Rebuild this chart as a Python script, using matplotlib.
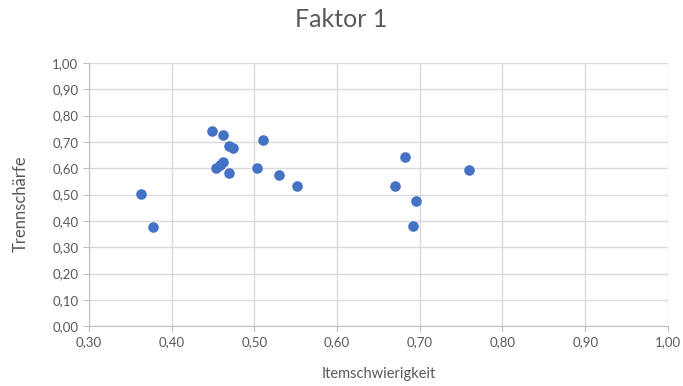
import matplotlib.pyplot as plt
from matplotlib.ticker import FuncFormatter, MultipleLocator

# Itemschwierigkeit (x) und Trennschärfe (y) je Item
schwierigkeit = [0.449, 0.462, 0.469, 0.474, 0.511, 0.462, 0.458, 0.454, 0.469, 0.503,
                 0.530, 0.552, 0.363, 0.377, 0.682, 0.760, 0.670, 0.696, 0.692]
trennschaerfe = [0.743, 0.725, 0.683, 0.676, 0.708, 0.625, 0.612, 0.600, 0.580, 0.602,
                 0.574, 0.532, 0.501, 0.376, 0.644, 0.593, 0.532, 0.476, 0.382]

plt.rcParams['font.family'] = ['Lato', 'DejaVu Sans']
text_color = '#595959'
grid_color = '#d9d9d9'

fig = plt.figure(figsize=(6.83, 3.86), dpi=100)
ax = fig.add_axes([0.130, 0.155, 0.848, 0.682])

ax.scatter(schwierigkeit, trennschaerfe, s=58, color='#4472C4', zorder=3, linewidths=0)

ax.set_xlim(0.30, 1.00)
ax.set_ylim(0.0, 1.0)
ax.xaxis.set_major_locator(MultipleLocator(0.1))
ax.yaxis.set_major_locator(MultipleLocator(0.1))
comma = FuncFormatter(lambda v, pos: f'{v:.2f}'.replace('.', ','))
ax.xaxis.set_major_formatter(comma)
ax.yaxis.set_major_formatter(comma)

ax.grid(True, color=grid_color, linewidth=1)
ax.set_axisbelow(True)
for side in ['top', 'right']:
    ax.spines[side].set_visible(False)
for side in ['left', 'bottom']:
    ax.spines[side].set_color('#bfbfbf')
ax.tick_params(colors=text_color, labelsize=9.5, length=4, color='#bfbfbf')

ax.set_xlabel('Itemschwierigkeit', color=text_color, fontsize=10.5, labelpad=13)
ax.set_ylabel('Trennschärfe', color=text_color, fontsize=12, va='center')
ax.yaxis.set_label_coords(-0.118, 0.465)
fig.suptitle('Faktor 1', color=text_color, fontsize=18, y=0.98)

fig.savefig('out.png', dpi=100)
